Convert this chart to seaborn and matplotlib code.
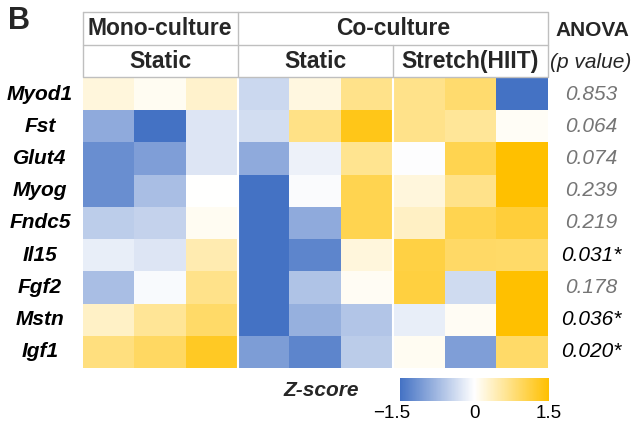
import numpy as np
import pandas as pd
import matplotlib
matplotlib.use("Agg")
import matplotlib.pyplot as plt
import matplotlib.transforms as mtransforms
from matplotlib.colors import LinearSegmentedColormap
import seaborn as sns

# ---------------- data ----------------
genes = ["Myod1", "Fst", "Glut4", "Myog", "Fndc5", "Il15", "Fgf2", "Mstn", "Igf1"]
samples = ["Mono-S1", "Mono-S2", "Mono-S3",
           "Co-S1", "Co-S2", "Co-S3",
           "Co-H1", "Co-H2", "Co-H3"]
myod1 = [0.20, 0.08, 0.30, -0.42, 0.18, 0.69, 0.69, 0.85, -1.50]
fst   = [-0.90, -1.50, -0.27, -0.36, 0.71, 1.35, 0.69, 0.60, 0.05]
glut4 = [-1.20, -1.03, -0.27, -0.90, -0.15, 0.65, -0.02, 1.02, 1.50]
myog  = [-1.20, -0.69, 0.00, -1.50, -0.04, 1.02, 0.20, 0.69, 1.50]
fndc5 = [-0.53, -0.47, 0.08, -1.50, -0.90, 1.02, 0.35, 1.02, 1.15]
il15  = [-0.18, -0.27, 0.46, -1.50, -1.29, 0.20, 1.10, 0.90, 0.88]
fgf2  = [-0.69, -0.05, 0.69, -1.50, -0.64, 0.06, 1.12, -0.38, 1.50]
mstn  = [0.33, 0.62, 0.88, -1.50, -0.84, -0.61, -0.18, 0.07, 1.50]
igf1  = [0.75, 0.92, 1.28, -1.04, -1.29, -0.55, 0.08, -1.02, 0.88]
p_values = ["0.853", "0.064", "0.074", "0.239", "0.219", "0.031*", "0.178", "0.036*", "0.020*"]
significant = [False, False, False, False, False, True, False, True, True]
group_top = ["Mono-culture", "Co-culture"]
group_bottom = ["Static", "Static", "Stretch(HIIT)"]
cbar_ticks = [-1.5, 0, 1.5]
cbar_ticklabels = ["\u22121.5", "0", "1.5"]

df = pd.DataFrame([myod1, fst, glut4, myog, fndc5, il15, fgf2, mstn, igf1],
                  index=genes, columns=samples)

# ---------------- style ----------------
sns.set_theme(style="white")
plt.rcParams['font.family'] = ['Liberation Sans', 'DejaVu Sans']

W, H = 636, 422
fig = plt.figure(figsize=(W / 100, H / 100), dpi=100)
fig.patch.set_facecolor("white")


def px(l, t, r, b):
    return [l / W, 1 - b / H, (r - l) / W, (b - t) / H]


ax = fig.add_axes(px(82.5, 78, 548, 368))
cax = fig.add_axes(px(400, 378, 549, 401))
cmap = LinearSegmentedColormap.from_list("zs", ["#4472C4", "#FFFFFF", "#FFC000"])

sns.heatmap(df, ax=ax, cmap=cmap, vmin=-1.5, vmax=1.5, cbar_ax=cax,
            cbar_kws=dict(orientation="horizontal", ticks=cbar_ticks),
            xticklabels=False, yticklabels=False)
ax.set_xlabel("")
ax.set_ylabel("")
for xv in (3, 6):
    ax.axvline(xv, color="white", lw=1.5)

# colorbar styling
cb = ax.collections[0].colorbar
cb.outline.set_visible(False)
cax.tick_params(length=0, labelsize=13.5, pad=3, colors="#000000")
cax.set_xticklabels(cbar_ticklabels)
# shift the first label slightly left, as in the reference
first = cax.get_xticklabels()[0]
first.set_transform(first.get_transform() +
                    mtransforms.ScaledTranslation(-8 / 100, 0, fig.dpi_scale_trans))

# row labels & p-values
trans = mtransforms.blended_transform_factory(fig.transFigure, ax.transData)
for i, g in enumerate(genes):
    ax.text(40 / W, i + 0.5, g, transform=trans, ha="center", va="center",
            fontsize=15, fontweight="bold", fontstyle="italic", color="black")
    ax.text(591 / W, i + 0.5, p_values[i], transform=trans, ha="center", va="center",
            fontsize=15, fontstyle="italic",
            color="black" if significant[i] else "#757575")

# header table
hax = fig.add_axes(px(82.5, 12, 548, 77))
hax.set_xlim(0, 9)
hax.set_ylim(2, 0)
hax.axis("off")
lc = "#BFBFBF"
lw = 1.0
hax.plot([0, 9, 9, 0, 0], [0, 0, 2, 2, 0], color=lc, lw=lw, clip_on=False)
hax.plot([0, 9], [1, 1], color=lc, lw=lw, clip_on=False)
hax.plot([3, 3], [0, 2], color=lc, lw=lw, clip_on=False)
hax.plot([6, 6], [1, 2], color=lc, lw=lw, clip_on=False)
hax.text(1.5, 0.52, group_top[0], ha="center", va="center", fontsize=16.5, fontweight="bold")
hax.text(6.0, 0.52, group_top[1], ha="center", va="center", fontsize=16.5, fontweight="bold")
for xc, lab in zip([1.5, 4.5, 7.5], group_bottom):
    hax.text(xc, 1.52, lab, ha="center", va="center", fontsize=16.5, fontweight="bold")

# other texts
fig.text(19 / W, 1 - 21 / H, "B", ha="center", va="center", fontsize=22, fontweight="bold")
fig.text(592 / W, 1 - 30 / H, "ANOVA", ha="center", va="center", fontsize=15, fontweight="bold")
fig.text(591 / W, 1 - 62 / H, "(p value)", ha="center", va="center", fontsize=15, fontstyle="italic")
fig.text(321 / W, 1 - 390 / H, "Z-score", ha="center", va="center", fontsize=15,
         fontweight="bold", fontstyle="italic")

fig.savefig("out.png", dpi=100, facecolor="white")
